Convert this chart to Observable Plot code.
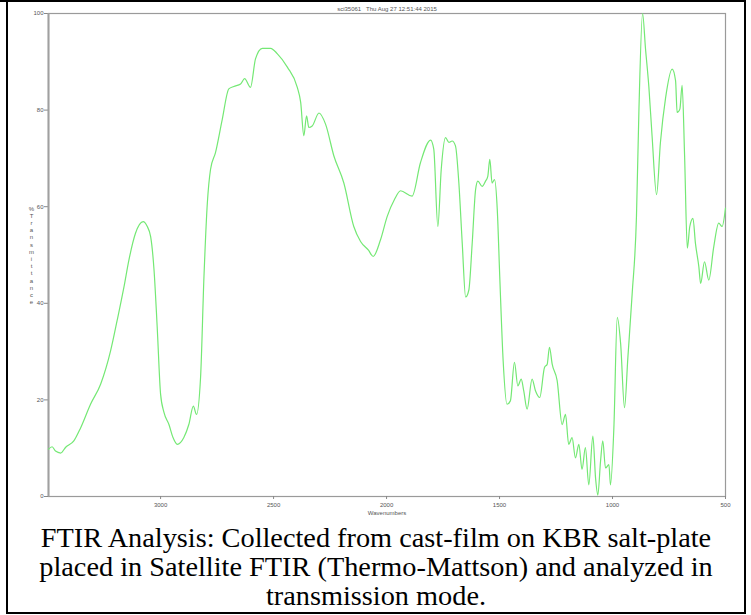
<!DOCTYPE html>
<html>
<head>
<meta charset="utf-8">
<script src="https://cdn.jsdelivr.net/npm/d3@7"></script>
<script src="https://cdn.jsdelivr.net/npm/@observablehq/plot@0.6"></script>
<style>
  html, body { margin: 0; padding: 0; background: #fff; }
  #wrap { position: relative; width: 751px; height: 615px; background: #fff; overflow: hidden; }
  .bd { position: absolute; background: #000; }
  #chart { position: absolute; left: 0; top: 0; }
  #caption { position: absolute; left: 8px; top: 523px; width: 736px; text-align: center; white-space: nowrap;
    font-family: "Liberation Serif", "Times New Roman", serif; font-size: 28.3px; line-height: 29px; color: #000; }
</style>
</head>
<body>
<div id="wrap">
  <div id="chart"></div>
  <div id="caption">FTIR Analysis: Collected from cast-film on KBR salt-plate<br>placed in Satellite FTIR (Thermo-Mattson) and analyzed in<br>transmission mode.</div>
  <div class="bd" style="left:0;top:0;width:746px;height:2px"></div>
  <div class="bd" style="left:6px;top:0;width:2px;height:614px"></div>
  <div class="bd" style="left:744px;top:0;width:2px;height:614px"></div>
  <div class="bd" style="left:6px;top:612px;width:740px;height:2px"></div>
</div>
<script>
const titleText = "sci35061   Thu Aug 27 12:51:44 2015";
const xLabel = "Wavenumbers";
const yLabel = "% Transmittance";
const xTicks = [3000, 2500, 2000, 1500, 1000, 500];
const yTicks = [0, 20, 40, 60, 80, 100];

const wavenumbers = [
  3496, 3480, 3465, 3442, 3420, 3384, 3354, 3310, 3265, 3221,
  3192, 3162, 3140, 3111, 3077, 3060, 3044, 3029, 3015, 3000,
  2985, 2963, 2945, 2926, 2897, 2875, 2855, 2841, 2823, 2808,
  2793, 2779, 2757, 2727, 2698, 2676, 2646, 2628, 2602, 2580,
  2550, 2513, 2484, 2439, 2395, 2380, 2366, 2354, 2344, 2329,
  2299, 2270, 2233, 2189, 2145, 2115, 2080, 2059, 2027, 1997,
  1965, 1938, 1887, 1850, 1805, 1791, 1773, 1758, 1739, 1724,
  1710, 1695, 1680, 1665, 1650, 1636, 1621, 1606, 1596, 1577,
  1562, 1552, 1543, 1533, 1522, 1510, 1499, 1484, 1467, 1452,
  1434, 1419, 1404, 1393, 1378, 1356, 1341, 1322, 1301, 1289,
  1279, 1267, 1245, 1223, 1208, 1194, 1179, 1164, 1149, 1135,
  1120, 1105, 1087, 1075, 1065, 1053, 1043, 1031, 1016, 1009,
  994, 979, 964, 947, 932, 913, 894, 883, 867, 854,
  839, 825, 805, 788, 765, 736, 721, 714, 702, 692,
  681, 669, 658, 644, 633, 618, 610, 593, 574, 552,
  530, 515, 500
];
const transmittance = [
  9.8, 10.3, 9.4, 9.0, 10.2, 11.5, 14.2, 19.1, 23.3, 30.2,
  36.5, 43.4, 49.0, 54.5, 56.9, 56.0, 53.8, 46.9, 35.1, 21.2,
  17.4, 14.9, 12.2, 10.8, 12.2, 14.9, 18.7, 17.0, 24.7, 45.5,
  60.8, 67.7, 71.2, 78.1, 84.4, 84.9, 85.4, 86.5, 84.7, 90.6,
  92.8, 92.8, 91.7, 88.9, 84.7, 81.6, 74.7, 78.8, 76.4, 76.7,
  79.4, 77.1, 70.5, 64.9, 55.9, 52.8, 51.0, 49.7, 53.1, 58.0,
  61.5, 63.3, 62.2, 69.1, 73.8, 71.9, 55.9, 67.7, 74.3, 73.3,
  73.6, 72.6, 64.9, 52.4, 41.3, 42.7, 52.4, 63.5, 65.3, 64.2,
  65.3, 66.3, 69.8, 64.9, 65.6, 59.4, 45.5, 28.1, 19.1, 19.8,
  27.8, 22.9, 24.3, 21.9, 18.1, 24.3, 21.9, 20.5, 26.7, 27.4,
  30.9, 27.4, 24.0, 14.9, 17.0, 10.8, 12.2, 8.0, 10.8, 5.6,
  10.1, 2.4, 12.5, 3.8, 0.3, 7.3, 11.5, 5.9, 6.6, 2.4,
  14.2, 37.1, 31.6, 18.4, 28.8, 42.0, 58.0, 80.2, 100, 92.7,
  84.7, 74.7, 62.5, 73.3, 82.6, 88.5, 86.1, 79.5, 80.2, 85.1,
  70.5, 51.4, 55.9, 57.6, 52.4, 47.6, 44.1, 48.6, 44.8, 51.7,
  56.6, 55.9, 59.7
];

const data = wavenumbers.map((w, i) => ({wn: w, t: transmittance[i]}));

const chart = Plot.plot({
  width: 751,
  height: 520,
  marginLeft: 48,
  marginRight: 26,
  marginTop: 13,
  marginBottom: 24,
  style: {fontFamily: "'Liberation Sans', Arial, sans-serif", fontSize: "6px", color: "#555", background: "transparent"},
  x: {domain: [3496, 500]},
  y: {domain: [0, 100]},
  marks: [
    Plot.frame({stroke: "#9a9a9a", strokeWidth: 1.2}),
    Plot.axisX({ticks: xTicks, tickFormat: d3.format("d"), tickSize: 3, tickPadding: 3, stroke: "#888",
      label: xLabel, labelAnchor: "center", labelArrow: "none", labelOffset: 18, fontSize: 6}),
    Plot.axisY({ticks: yTicks, tickFormat: d3.format("d"), tickSize: 4, tickPadding: 1, stroke: "#888",
      label: null, fontSize: 6}),
    Plot.ruleX([3496], {stroke: "#a0a0a0", strokeWidth: 2}),
    Plot.line(data, {x: "wn", y: "t", stroke: "#74e874", strokeWidth: 1.2, curve: "monotone-x"}),
    Plot.text([titleText], {frameAnchor: "top", dy: -7, fontSize: 6, fill: "#555"}),
    Plot.text([yLabel.replace(" ", "").split("").join("\n")], {frameAnchor: "left", dx: -17, lineHeight: 1.2, fontSize: 6, fill: "#555", textAnchor: "middle"})
  ]
});
document.getElementById("chart").appendChild(chart);
</script>
</body>
</html>
